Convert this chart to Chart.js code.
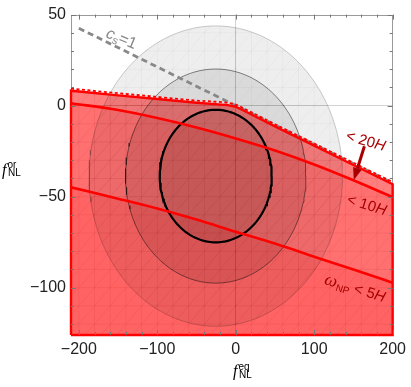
<!DOCTYPE html>
<html>
<head>
<meta charset="utf-8">
<script src="https://cdn.jsdelivr.net/npm/chart.js@4.4.1/dist/chart.umd.min.js"></script>
<style>
  html, body { margin: 0; padding: 0; background: #fff; }
  canvas { display: block; }
</style>
</head>
<body>
<canvas id="chart" width="411" height="387"></canvas>
<script>
/* ================= DATA ================= */
const xRange = [-210, 200];
const yRange = [-126, 50];

// f_NL^eq samples for the upper (20H) boundary
const fEqTop   = [-210, -150, -100, -50, -10, 0, 10, 50, 100, 150, 200];
const bound20H = [8.2, 5.6, 3.6, 1.6, 0.3, -0.6, -2.7, -11.4, -22, -32.6, -43.2];
const dash20H  = [9.4, 6.8, 4.8, 2.8, 1.5, 0.6, -1.5, -10.2, -20.8, -31.4, -42];

// f_NL^eq samples for the 10H / 5H lines
const fEqLine  = [-210, -150, -100, -50, 0, 50, 100, 150, 200];
const bound10H = [1.3, -2.4, -6.8, -12.0, -18.0, -24.6, -32.3, -41.0, -50.3];
const bound5H  = [-44.9, -51.1, -56.5, -62.6, -69.3, -75.8, -83.0, -90.0, -97.3];

// c_s = 1 line
const csEq = [-200, 200];
const csOr = [42.5, -42.5];

// Planck contours: centre and 1/2/3 sigma half-axes
const ellCenter = [-25.5, -38.7];
const ellSemiX  = [71.4, 115, 161.5];
const ellSemiY  = [36.4, 58.8, 82.5];

// arrow pointing at the 20H bound
const arrowEq = [164, 150.5];
const arrowOr = [-22.3, -40.8];

// in-plot labels
const labelEq    = [-148, 164.2, 165.4, 150.3];
const labelOr    = [37.1, -19.1, -54.3, -100.2];
const labelAngle = [23, 16, 17, 17];

/* ================= HELPERS ================= */
const xy = (xs, ys) => xs.map((x, i) => ({ x, y: ys[i] }));

function ellipse(i) {
    const pts = [];
    for (let k = 0; k <= 180; k++) {
        const t = 2 * Math.PI * k / 180;
        pts.push({
            x: ellCenter[0] + ellSemiX[i] * Math.cos(t),
            y: ellCenter[1] + ellSemiY[i] * Math.sin(t)
        });
    }
    return pts;
}

const fmt = v => (v < 0 ? "\u2212" : "") + Math.abs(v);

const SANS = "'Liberation Sans', Arial, sans-serif";
const SERIF = "'Liberation Serif', 'Times New Roman', serif";
const RED_TXT = "#a80000";

// parts: {t, font, dy, dx, stack}  stack = start at same x as previous part
function drawRich(ctx, parts, x, y, angle, color, align) {
    ctx.save();
    ctx.translate(x, y);
    ctx.rotate(angle * Math.PI / 180);
    ctx.fillStyle = color;
    ctx.textBaseline = "alphabetic";
    ctx.textAlign = "left";
    let total = 0, px = 0, lastStart = 0, lastW = 0;
    const pos = [];
    parts.forEach(p => {
        ctx.font = p.font;
        const w = ctx.measureText(p.t).width;
        if (p.stack) {
            pos.push(lastStart);
            px = lastStart + Math.max(w, lastW);
        } else {
            pos.push(px);
            lastStart = px;
            lastW = w;
            px += w;
        }
        total = Math.max(total, px);
    });
    const off = align === "left" ? 0 : -total / 2;
    parts.forEach((p, i) => {
        ctx.font = p.font;
        ctx.fillText(p.t, off + pos[i] + (p.dx || 0), p.dy || 0);
    });
    ctx.restore();
}

/* ================= DATASETS ================= */
const yMin = yRange[0];
const ds = [
    // red allowed regions
    { label: "fill20H", data: xy(fEqTop, bound20H), fill: "start", backgroundColor: "rgba(255,0,0,0.5)", borderColor: "transparent", borderWidth: 0, cubicInterpolationMode: "monotone", order: 20 },
    { label: "fill10H", data: xy(fEqLine, bound10H), fill: "start", backgroundColor: "rgba(255,0,0,0.12)", borderColor: "transparent", borderWidth: 0, cubicInterpolationMode: "monotone", order: 19 },
    { label: "fill5H", data: xy(fEqLine, bound5H), fill: "start", backgroundColor: "rgba(255,0,0,0.12)", borderColor: "transparent", borderWidth: 0, cubicInterpolationMode: "monotone", order: 18 },
    // grey Planck contours (fills)
    { label: "ell3", data: ellipse(2), fill: "shape", backgroundColor: "rgba(0,0,0,0.065)", borderColor: "transparent", borderWidth: 0, order: 15 },
    { label: "ell2", data: ellipse(1), fill: "shape", backgroundColor: "rgba(0,0,0,0.085)", borderColor: "transparent", borderWidth: 0, order: 14 },
    { label: "ell1", data: ellipse(0), fill: "shape", backgroundColor: "rgba(0,0,0,0.085)", borderColor: "transparent", borderWidth: 0, order: 13 },
    // contour outlines
    { label: "out3", data: ellipse(2), fill: false, borderColor: "rgba(0,0,0,0.25)", borderWidth: 0.8, order: 10 },
    { label: "out2", data: ellipse(1), fill: false, borderColor: "rgba(0,0,0,0.6)", borderWidth: 0.8, order: 9 },
    { label: "out1", data: ellipse(0), fill: false, borderColor: "#000", borderWidth: 2.2, order: 8 },
    // c_s = 1
    { label: "cs", data: xy(csEq, csOr), fill: false, borderColor: "#888", borderWidth: 2.8, borderDash: [6, 4], order: 6 },
    // red bounds
    { label: "line5H", data: xy(fEqLine, bound5H), fill: false, borderColor: "#ff0000", borderWidth: 2.6, cubicInterpolationMode: "monotone", order: 5 },
    { label: "line10H", data: xy(fEqLine, bound10H), fill: false, borderColor: "#ff0000", borderWidth: 2.6, cubicInterpolationMode: "monotone", order: 4 },
    { label: "line20H", data: [{ x: xRange[0], y: yMin }].concat(xy(fEqTop, bound20H), [{ x: xRange[1], y: yMin }, { x: xRange[0], y: yMin }]),
      fill: false, borderColor: "#ff0000", borderWidth: 2.4, clip: 3, order: 3 },
    { label: "dash20H", data: xy(fEqTop, dash20H), fill: false, borderColor: "#ff0000", borderWidth: 1.8, borderDash: [3, 2.5], cubicInterpolationMode: "monotone", order: 1 }
];

/* ================= PLUGINS ================= */
const framePlugin = {
    id: "frame",
    beforeDatasetsDraw(chart) {
        const { ctx, chartArea: a } = chart;
        ctx.save();
        ctx.strokeStyle = "#9a9a9a";
        ctx.lineWidth = 1;
        ctx.strokeRect(Math.round(a.left) + 0.5, Math.round(a.top) + 0.5,
            Math.round(a.right) - Math.round(a.left) - 1, Math.round(a.bottom) - Math.round(a.top) - 1);
        ctx.restore();
    },
    afterDatasetsDraw(chart) {
        const { ctx, chartArea: a, scales: { x, y } } = chart;
        ctx.save();
        ctx.strokeStyle = "#777";
        ctx.lineWidth = 1;
        ctx.beginPath();
        for (let v = -200; v <= 200; v += 20) {
            const p = Math.round(x.getPixelForValue(v)) + 0.5;
            const len = v % 100 === 0 ? 5 : 3;
            ctx.moveTo(p, a.bottom); ctx.lineTo(p, a.bottom - len);
            ctx.moveTo(p, a.top); ctx.lineTo(p, a.top + len);
        }
        for (let v = -120; v <= 50; v += 10) {
            const p = Math.round(y.getPixelForValue(v)) + 0.5;
            const len = v % 50 === 0 ? 5 : 3;
            ctx.moveTo(a.left, p); ctx.lineTo(a.left + len, p);
            ctx.moveTo(a.right, p); ctx.lineTo(a.right - len, p);
        }
        ctx.stroke();
        ctx.restore();
    }
};

function polyPath(ctx, pts) {
    ctx.beginPath();
    pts.forEach((p, i) => i ? ctx.lineTo(p.x, p.y) : ctx.moveTo(p.x, p.y));
    ctx.closePath();
}

function drawMesh(chart, color) {
    const { ctx, scales: { x, y } } = chart;
    ctx.strokeStyle = color;
    ctx.lineWidth = 1;
    ctx.beginPath();
    for (let v = -200; v <= 200; v += 20) {
        const p = x.getPixelForValue(v);
        ctx.moveTo(p, y.getPixelForValue(yRange[0])); ctx.lineTo(p, y.getPixelForValue(yRange[1]));
    }
    for (let v = -120; v <= 50; v += 10) {
        const p = y.getPixelForValue(v);
        ctx.moveTo(x.getPixelForValue(xRange[0]), p); ctx.lineTo(x.getPixelForValue(xRange[1]), p);
    }
    for (let c = -40; c <= 40; c++) {
        const x0 = -240, x1 = 240;
        ctx.moveTo(x.getPixelForValue(x0), y.getPixelForValue((x0 / 20 - c) * 10));
        ctx.lineTo(x.getPixelForValue(x1), y.getPixelForValue((x1 / 20 - c) * 10));
    }
    ctx.stroke();
}

const meshPlugin = {
    id: "mesh",
    afterDatasetDraw(chart, args) {
        if (chart.data.datasets[args.index].label !== "ell1") return;
        const { ctx, chartArea: a } = chart;
        const idx = name => chart.data.datasets.findIndex(d => d.label === name);
        ctx.save();
        ctx.beginPath();
        ctx.rect(a.left, a.top, a.width, a.height);
        ctx.clip();

        ctx.save();
        polyPath(ctx, chart.getDatasetMeta(idx("ell3")).data);
        ctx.clip();
        drawMesh(chart, "rgba(0,0,0,0.035)");
        ctx.restore();

        ctx.save();
        const top = chart.getDatasetMeta(idx("fill20H")).data;
        const pts = top.map(p => ({ x: p.x, y: p.y }));
        pts.push({ x: top[top.length - 1].x, y: a.bottom }, { x: top[0].x, y: a.bottom });
        polyPath(ctx, pts);
        ctx.clip();
        drawMesh(chart, "rgba(190,0,0,0.09)");
        ctx.restore();

        ctx.restore();
    }
};

const annotPlugin = {
    id: "annot",
    afterDatasetsDraw(chart) {
        const { ctx, chartArea: a, scales: { x, y } } = chart;

        // arrow
        const x0 = x.getPixelForValue(arrowEq[0]), y0 = y.getPixelForValue(arrowOr[0]);
        const x1 = x.getPixelForValue(arrowEq[1]), y1 = y.getPixelForValue(arrowOr[1]);
        const ang = Math.atan2(y1 - y0, x1 - x0);
        const head = 12, half = 4.5;
        const bx = x1 - head * Math.cos(ang), by = y1 - head * Math.sin(ang);
        ctx.save();
        ctx.strokeStyle = RED_TXT;
        ctx.fillStyle = RED_TXT;
        ctx.lineWidth = 3;
        ctx.beginPath(); ctx.moveTo(x0, y0); ctx.lineTo(bx, by); ctx.stroke();
        ctx.beginPath();
        ctx.moveTo(x1, y1);
        ctx.lineTo(bx + half * Math.sin(ang), by - half * Math.cos(ang));
        ctx.lineTo(bx - half * Math.sin(ang), by + half * Math.cos(ang));
        ctx.closePath(); ctx.fill();
        ctx.restore();

        const labels = [
            { color: "#888", parts: [
                { t: "c", font: "italic 16px " + SANS },
                { t: "s", font: "11px " + SANS, dy: 3 },
                { t: "=1", font: "16px " + SANS } ] },
            { color: RED_TXT, parts: [
                { t: "< 20", font: "15px " + SANS },
                { t: "H", font: "italic 15px " + SANS } ] },
            { color: RED_TXT, parts: [
                { t: "< 10", font: "15px " + SANS },
                { t: "H", font: "italic 15px " + SANS } ] },
            { color: RED_TXT, parts: [
                { t: "\u03c9", font: "italic 18px " + SERIF },
                { t: "NP", font: "10px " + SANS, dy: 3 },
                { t: " < 5", font: "15px " + SANS },
                { t: "H", font: "italic 15px " + SANS } ] }
        ];
        labels.forEach((l, i) => {
            drawRich(ctx, l.parts, x.getPixelForValue(labelEq[i]), y.getPixelForValue(labelOr[i]) + 5,
                labelAngle[i], l.color);
        });

        // axis titles
        drawRich(ctx, [
            { t: "f", font: "italic 16px " + SERIF },
            { t: "or", font: "10px " + SANS, dy: -6.5, dx: 1 },
            { t: "NL", font: "10px " + SANS, dy: 1.5, stack: true, dx: 1.5 }
        ], 2, (a.top + a.bottom) / 2, 0, "#000", "left");
        drawRich(ctx, [
            { t: "f", font: "italic 16px " + SERIF },
            { t: "eq", font: "10px " + SANS, dy: -5.5, dx: 1 },
            { t: "NL", font: "10px " + SANS, dy: 2, stack: true, dx: 1.5 }
        ], 233, 375.5, 0, "#000", "left");
    }
};

/* ================= CHART ================= */
const tickFont = { family: "'Liberation Sans', Arial, sans-serif", size: 16 };
const zeroGrid = c => (c.tick && c.tick.value === 0 ? "#d4d4d4" : "transparent");

new Chart(document.getElementById("chart"), {
    type: "line",
    data: { datasets: ds },
    options: {
        responsive: false,
        animation: false,
        events: [],
        layout: { padding: { top: 9, right: 14, left: 0, bottom: 0 } },
        elements: { point: { radius: 0 }, line: { tension: 0 } },
        plugins: { legend: { display: false }, tooltip: { enabled: false } },
        scales: {
            x: {
                type: "linear", min: xRange[0], max: xRange[1],
                afterFit: s => { s.height = 52; },
                border: { display: false },
                grid: { drawTicks: false, color: zeroGrid, lineWidth: 1 },
                ticks: { stepSize: 20, autoSkip: false, includeBounds: false, maxRotation: 0, padding: 5,
                         color: "#222", font: tickFont, callback: v => (v % 100 === 0 ? fmt(v) : "") }
            },
            y: {
                type: "linear", min: yRange[0], max: yRange[1],
                afterFit: s => { s.width = 71; },
                border: { display: false },
                grid: { drawTicks: false, color: zeroGrid, lineWidth: 1 },
                ticks: { stepSize: 10, autoSkip: false, includeBounds: false, padding: 5,
                         color: "#222", font: tickFont, callback: v => (v % 50 === 0 ? fmt(v) : "") }
            }
        }
    },
    plugins: [framePlugin, meshPlugin, annotPlugin]
});
</script>
</body>
</html>
